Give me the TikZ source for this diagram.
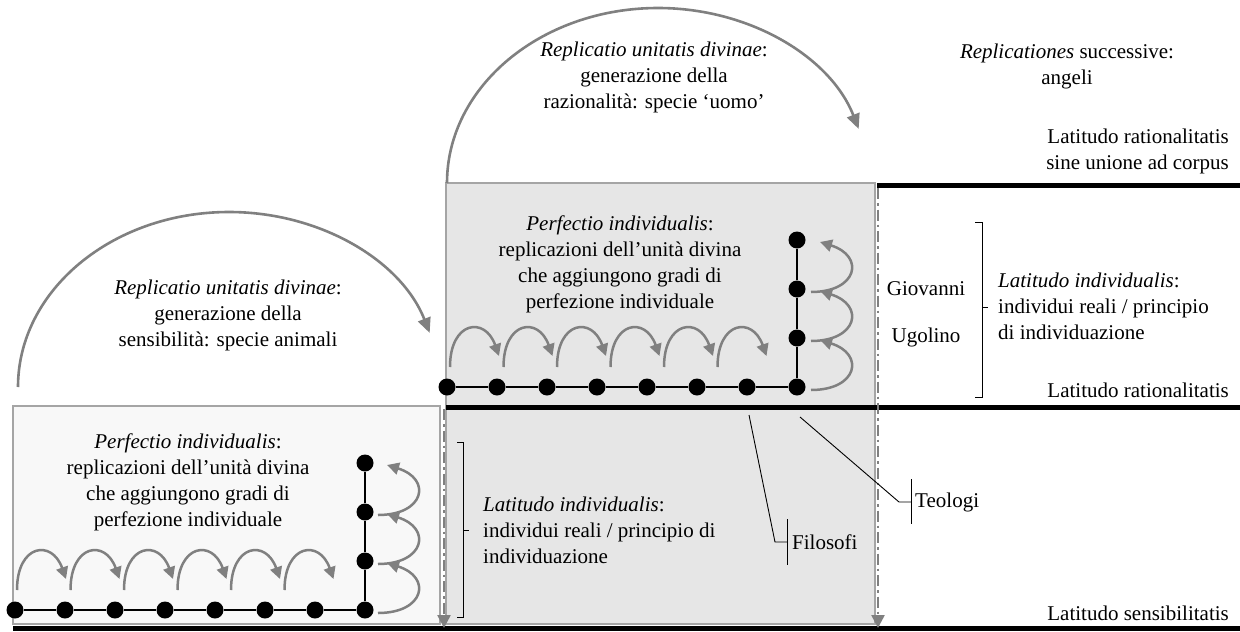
\documentclass[tikz,border=0pt]{standalone}
\usepackage{fontspec}
\setmainfont{Liberation Serif}
\usetikzlibrary{arrows.meta}
\definecolor{arcgray}{RGB}{128,128,128}
\definecolor{boxline}{RGB}{165,165,165}
\definecolor{lightfill}{RGB}{248,248,248}
\definecolor{midfill}{RGB}{230,230,230}
\begin{document}
\begin{tikzpicture}[x=1pt,y=-1pt,
  txt/.style={inner sep=0pt,align=center,font=\fontsize{21}{26}\selectfont},
  dot/.style={circle,fill=black,inner sep=0pt,minimum size=17pt},
  chainline/.style={line width=2.6pt,black},
  thickline/.style={line width=5pt,black},
  thinline/.style={line width=0.9pt,black},
  bigarrow/.style={draw=arcgray,line width=2.6pt,-{Triangle[length=15pt,width=13pt]}},
  smallarrow/.style={draw=arcgray,line width=2.5pt,-{Triangle[length=12pt,width=12pt]}},
  ddarrow/.style={draw=arcgray,line width=2.5pt,dash pattern=on 11pt off 4pt on 2.5pt off 4pt,-{Triangle[length=13pt,width=13pt]}},
  boxstyle/.style={draw=boxline,line width=1.4pt}]
\useasboundingbox (0,0) rectangle (1240,632);

% boxes
\fill[white] (0,0) rectangle (1240,632);
\draw[boxstyle,fill=lightfill] (13,406) rectangle (440,624);
\draw[boxstyle,fill=midfill] (446,183) rectangle (875,624);

% thick level lines
\draw[thickline] (13,628) -- (1240,628);
\draw[thickline] (446,407) -- (1240,407);
\draw[thickline] (877,185) -- (1240,185);

% dash-dot arrows
\coordinate (d1s) at (444,409);
\coordinate (d1e) at (444,628);
\coordinate (d2s) at (878,188);
\coordinate (d2e) at (878,628);
\draw[ddarrow] (d1s) -- (d1e);
\draw[ddarrow] (d2s) -- (d2e);

% big arcs
\coordinate (b1) at (18,387);
\coordinate (b2) at (447,183);
\draw[bigarrow] (b1) arc[start angle=180,end angle=18,x radius=211pt,y radius=175pt];
\draw[bigarrow] (b2) arc[start angle=180,end angle=18,x radius=211pt,y radius=175pt];

% left chain
\foreach \i in {0,...,7} \node[dot] (a\i) at ({15+50*\i},610) {};
\node[dot] (av1) at (365,561) {};
\node[dot] (av2) at (365,512) {};
\node[dot] (av3) at (365,463) {};
\draw[chainline] (a0) -- (a1) -- (a2) -- (a3) -- (a4) -- (a5) -- (a6) -- (a7) -- (av1) -- (av2) -- (av3);
\foreach \i in {0,...,5}
  \draw[smallarrow] ({17+53.5*\i},590) .. controls +(0,-46) and +(-14,-40) .. ({66+53.5*\i},579);
\foreach \y in {610,561,512}
  \draw[smallarrow] (378,{\y+3}) .. controls +(47,0) and +(45,14) .. (387,{\y-47});

% middle chain
\foreach \i in {0,...,7} \node[dot] (m\i) at ({447+50*\i},387) {};
\node[dot] (mv1) at (797,338) {};
\node[dot] (mv2) at (797,289) {};
\node[dot] (mv3) at (797,240) {};
\draw[chainline] (m0) -- (m1) -- (m2) -- (m3) -- (m4) -- (m5) -- (m6) -- (m7) -- (mv1) -- (mv2) -- (mv3);
\foreach \i in {0,...,5}
  \draw[smallarrow] ({450+53.5*\i},367) .. controls +(0,-46) and +(-14,-40) .. ({499+53.5*\i},356);
\foreach \y in {387,338,289}
  \draw[smallarrow] (811,{\y+3}) .. controls +(47,0) and +(45,14) .. (820,{\y-47});

% texts
\node[txt] (arc1txt) at (228,315) {\textit{Replicatio unitatis divinae}:\\generazione della\\sensibilità: specie animali};
\node[txt] (arc2txt) at (654,77) {\textit{Replicatio unitatis divinae}:\\generazione della\\razionalità: specie ‘uomo’};
\node[txt] (angeli) at (1067,66) {\textit{Replicationes} successive:\\angeli};
\node[txt,anchor=east,align=right] (latsine) at (1229,151) {Latitudo rationalitatis\\sine unione ad corpus};
\node[txt,anchor=east] (latrat) at (1229,390) {Latitudo rationalitatis};
\node[txt,anchor=east] (latsens) at (1229,613) {Latitudo sensibilitatis};
\node[txt] (perf1) at (188,482) {\textit{Perfectio individualis}:\\replicazioni dell’unità divina\\che aggiungono gradi di\\perfezione individuale};
\node[txt] (perf2) at (620,264) {\textit{Perfectio individualis}:\\replicazioni dell’unità divina\\che aggiungono gradi di\\perfezione individuale};
\node[txt] (giov) at (926,289) {Giovanni};
\node[txt] (ugol) at (926,337) {Ugolino};
\node[txt,anchor=west,align=left] (latind2) at (998,306) {\textit{Latitudo individualis}:\\individui reali / principio\\di individuazione};
\node[txt,anchor=west,align=left] (latind1) at (483,530) {\textit{Latitudo individualis}:\\individui reali / principio di\\individuazione};
\node[txt,anchor=west] (filo) at (792,542) {Filosofi};
\node[txt,anchor=west] (teo) at (915,502) {Teologi};

% brackets
\draw[thinline] (975,222) -- (982,222) -- (982,397) -- (975,397);
\draw[thinline] (982,307) -- (988,307);
\draw[thinline] (457,442) -- (463,442) -- (463,617) -- (457,617);
\draw[thinline] (463,530) -- (469,530);

% Filosofi / Teologi pointers
\coordinate (fA) at (749,415);
\coordinate (fB) at (775,542);
\coordinate (fC) at (787,542);
\draw[thinline] (fA) -- (fB) -- (fC);
\draw[thinline] (787,519) -- (787,565);
\coordinate (tA) at (800,417);
\coordinate (tB) at (899,502);
\coordinate (tC) at (911,502);
\draw[thinline] (tA) -- (tB) -- (tC);
\draw[thinline] (911,479) -- (911,524);
\end{tikzpicture}
\end{document}
